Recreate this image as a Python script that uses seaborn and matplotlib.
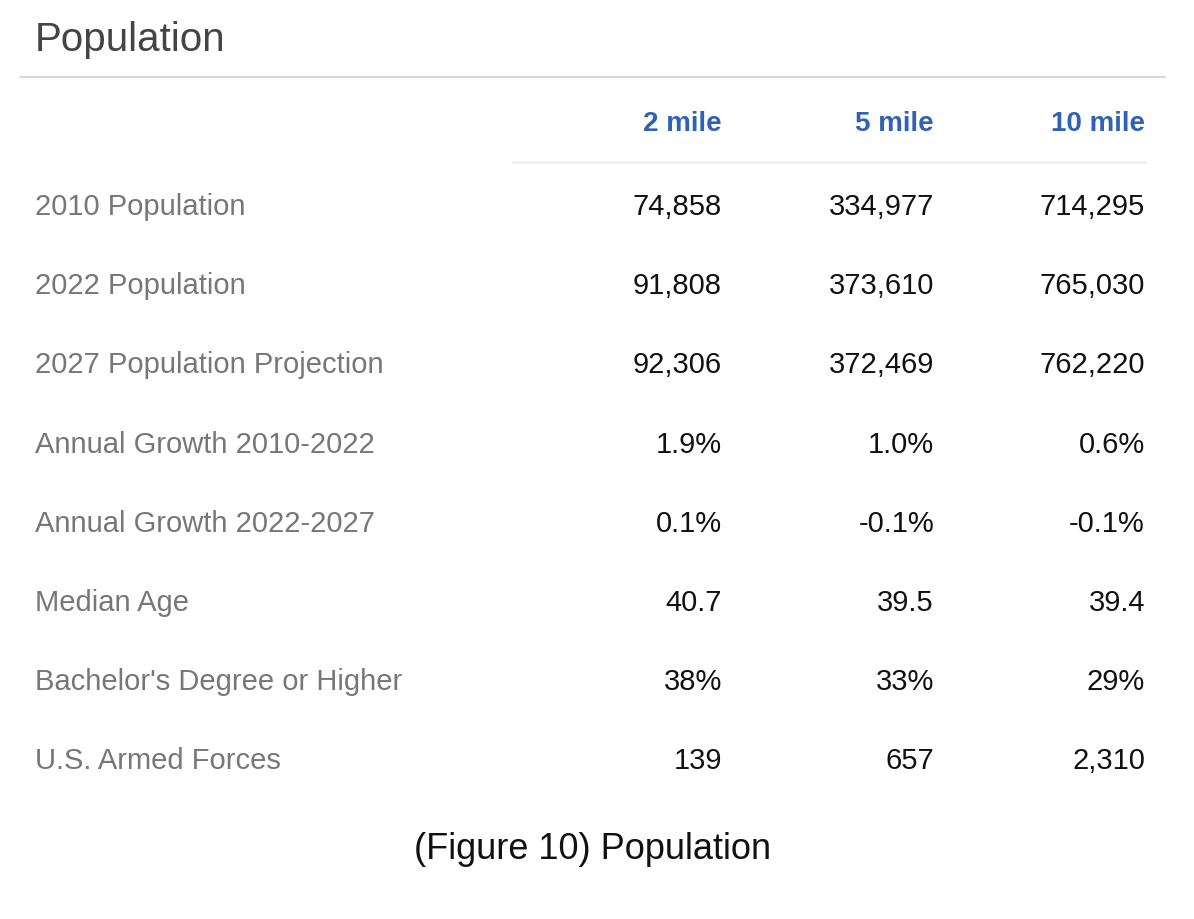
import matplotlib.pyplot as plt
import seaborn as sns

title = "Population"
caption = "(Figure 10) Population"
columns = ["2 mile", "5 mile", "10 mile"]
row_labels = ["2010 Population", "2022 Population", "2027 Population Projection",
              "Annual Growth 2010-2022", "Annual Growth 2022-2027", "Median Age",
              "Bachelor's Degree or Higher", "U.S. Armed Forces"]
mile_2 = ["74,858", "91,808", "92,306", "1.9%", "0.1%", "40.7", "38%", "139"]
mile_5 = ["334,977", "373,610", "372,469", "1.0%", "-0.1%", "39.5", "33%", "657"]
mile_10 = ["714,295", "765,030", "762,220", "0.6%", "-0.1%", "39.4", "29%", "2,310"]

sns.set_theme(style="white")
plt.rcParams["font.family"] = ["Liberation Sans", "DejaVu Sans"]
fig = plt.figure(figsize=(11.94, 9.2), dpi=100)
ax = fig.add_axes([0, 0, 1, 1])
ax.set_xlim(0, 1194)
ax.set_ylim(920, 0)
ax.axis("off")

ax.text(35, 40, title, fontsize=29, color="#444444", va="center", ha="left")
ax.plot([20, 1165], [78, 78], color="#d8d8d8", lw=1.5)
ax.plot([512, 1145], [163, 163], color="#f0f0f0", lw=2)

col_x = [722, 934, 1145]
for x, name in zip(col_x, columns):
    ax.text(x, 124, name, fontsize=20, fontweight="bold", color="#2f62b3",
            ha="right", va="center")

row_y = [207 + 79.2 * i for i in range(len(row_labels))]
for y, lab, a, b, c in zip(row_y, row_labels, mile_2, mile_5, mile_10):
    ax.text(35, y, lab, fontsize=21, color="#777777", ha="left", va="center")
    for x, v in zip(col_x, [a, b, c]):
        ax.text(x, y, v, fontsize=21, color="#111111", ha="right", va="center")

ax.text(593, 850, caption, fontsize=26, color="#111111", ha="center", va="center")

fig.savefig("out.png", dpi=100, facecolor="white")
plt.close(fig)
